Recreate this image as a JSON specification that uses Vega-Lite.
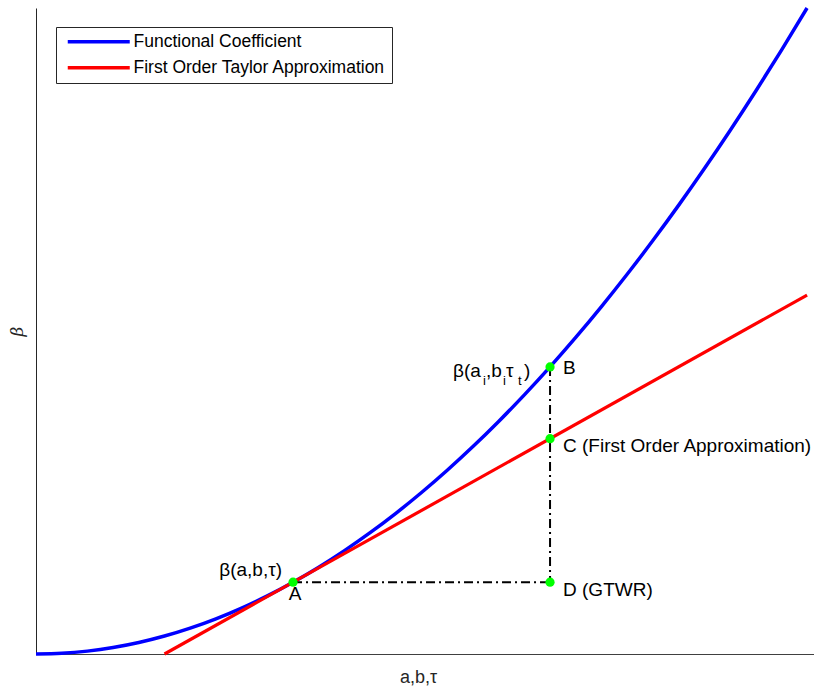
{
  "$schema": "https://vega.github.io/schema/vega-lite/v6.json",
  "width": 778,
  "height": 646,
  "autosize": {"type": "none"},
  "padding": {"left": 36, "top": 8, "right": 0, "bottom": 39},
  "background": "white",
  "config": {
    "view": {"stroke": null},
    "font": "Liberation Sans",
    "text": {"font": "Liberation Sans", "fontSize": 19, "color": "#000000"}
  },
  "datasets": {
    "curves": [
      {"x": 0.0, "y": 0.0, "series": "Functional Coefficient"},
      {"x": 0.1, "y": 0.01, "series": "Functional Coefficient"},
      {"x": 0.2, "y": 0.04, "series": "Functional Coefficient"},
      {"x": 0.3, "y": 0.09, "series": "Functional Coefficient"},
      {"x": 0.4, "y": 0.16, "series": "Functional Coefficient"},
      {"x": 0.5, "y": 0.25, "series": "Functional Coefficient"},
      {"x": 0.6, "y": 0.36, "series": "Functional Coefficient"},
      {"x": 0.7, "y": 0.49, "series": "Functional Coefficient"},
      {"x": 0.8, "y": 0.64, "series": "Functional Coefficient"},
      {"x": 0.9, "y": 0.81, "series": "Functional Coefficient"},
      {"x": 1.0, "y": 1.0, "series": "Functional Coefficient"},
      {"x": 1.1, "y": 1.21, "series": "Functional Coefficient"},
      {"x": 1.2, "y": 1.44, "series": "Functional Coefficient"},
      {"x": 1.3, "y": 1.69, "series": "Functional Coefficient"},
      {"x": 1.4, "y": 1.96, "series": "Functional Coefficient"},
      {"x": 1.5, "y": 2.25, "series": "Functional Coefficient"},
      {"x": 1.6, "y": 2.56, "series": "Functional Coefficient"},
      {"x": 1.7, "y": 2.89, "series": "Functional Coefficient"},
      {"x": 1.8, "y": 3.24, "series": "Functional Coefficient"},
      {"x": 1.9, "y": 3.61, "series": "Functional Coefficient"},
      {"x": 2.0, "y": 4.0, "series": "Functional Coefficient"},
      {"x": 2.1, "y": 4.41, "series": "Functional Coefficient"},
      {"x": 2.2, "y": 4.84, "series": "Functional Coefficient"},
      {"x": 2.3, "y": 5.29, "series": "Functional Coefficient"},
      {"x": 2.4, "y": 5.76, "series": "Functional Coefficient"},
      {"x": 2.5, "y": 6.25, "series": "Functional Coefficient"},
      {"x": 2.6, "y": 6.76, "series": "Functional Coefficient"},
      {"x": 2.7, "y": 7.29, "series": "Functional Coefficient"},
      {"x": 2.8, "y": 7.84, "series": "Functional Coefficient"},
      {"x": 2.9, "y": 8.41, "series": "Functional Coefficient"},
      {"x": 3.0, "y": 9.0, "series": "Functional Coefficient"},
      {"x": 0.5, "y": 0.0, "series": "First Order Taylor Approximation"},
      {"x": 3.0, "y": 5.0, "series": "First Order Taylor Approximation"}
    ],
    "guides": [
      {"x": 1, "y": 1, "x2": 2, "y2": 1},
      {"x": 2, "y": 4, "x2": 2, "y2": 1}
    ],
    "points": [
      {"x": 1, "y": 1, "name": "A"},
      {"x": 2, "y": 4, "name": "B"},
      {"x": 2, "y": 3, "name": "C"},
      {"x": 2, "y": 1, "name": "D"}
    ]
  },
  "layer": [
    {
      "data": {"name": "curves"},
      "transform": [{"filter": "datum.series === 'Functional Coefficient'"}],
      "mark": {"type": "line", "strokeWidth": 3.5, "interpolate": "monotone"},
      "encoding": {
        "x": {"field": "x", "type": "quantitative", "scale": {"domain": [0, 3.027], "nice": false, "zero": false},
          "axis": {"title": "a,b,τ", "ticks": false, "labels": false, "grid": false, "domainColor": "#404040", "domainWidth": 1.2, "titleFont": "Liberation Sans", "titleFontSize": 18, "titleFontWeight": "normal", "titleColor": "#262626", "titlePadding": 14, "titleX": 382}},
        "y": {"field": "y", "type": "quantitative", "scale": {"domain": [0, 9], "nice": false},
          "axis": {"title": "β", "ticks": false, "labels": false, "grid": false, "domainColor": "#262626", "domainWidth": 1, "titleFont": "DejaVu Serif", "titleFontStyle": "italic", "titleFontSize": 17, "titleFontWeight": "normal", "titleColor": "#262626", "titlePadding": 10}},
        "color": {"field": "series", "type": "nominal",
          "scale": {"domain": ["Functional Coefficient", "First Order Taylor Approximation"], "range": ["#0000FF", "#FF0000"]},
          "legend": {"title": null, "orient": "none", "legendX": 20, "legendY": 19, "strokeColor": "#262626", "fillColor": "white", "padding": 6, "rowPadding": 7, "symbolType": "M-0.6,0H11.8", "symbolSize": 100, "symbolStrokeWidth": 3.5, "labelFont": "Liberation Sans", "labelFontSize": 17.5, "labelColor": "#000000", "labelOffset": 54, "labelLimit": 400}}
      }
    },
    {
      "data": {"name": "curves"},
      "transform": [{"filter": "datum.series === 'First Order Taylor Approximation'"}],
      "mark": {"type": "line", "strokeWidth": 3.2},
      "encoding": {
        "x": {"field": "x", "type": "quantitative"},
        "y": {"field": "y", "type": "quantitative"},
        "color": {"field": "series", "type": "nominal"}
      }
    },
    {
      "data": {"name": "guides"},
      "mark": {"type": "rule", "color": "#000000", "strokeWidth": 2, "strokeDash": [9, 4, 2, 4]},
      "encoding": {
        "x": {"field": "x", "type": "quantitative"},
        "y": {"field": "y", "type": "quantitative"},
        "x2": {"field": "x2"},
        "y2": {"field": "y2"}
      }
    },
    {
      "data": {"name": "points"},
      "mark": {"type": "point", "filled": true, "shape": "circle", "size": 85, "color": "#00FF00", "opacity": 1},
      "encoding": {
        "x": {"field": "x", "type": "quantitative"},
        "y": {"field": "y", "type": "quantitative"}
      }
    },
    {
      "data": {"values": [{"x": 1, "y": 1, "label": "β(a,b,τ)"}]},
      "mark": {"type": "text", "align": "right", "baseline": "middle", "dx": -11, "dy": -12},
      "encoding": {"x": {"field": "x", "type": "quantitative"}, "y": {"field": "y", "type": "quantitative"}, "text": {"field": "label"}}
    },
    {
      "data": {"values": [{"x": 1, "y": 1, "label": "A"}]},
      "mark": {"type": "text", "align": "center", "baseline": "middle", "dx": 2, "dy": 12},
      "encoding": {"x": {"field": "x", "type": "quantitative"}, "y": {"field": "y", "type": "quantitative"}, "text": {"field": "label"}}
    },
    {
      "data": {"values": [{"x": 2, "y": 4, "label": "B"}]},
      "mark": {"type": "text", "align": "left", "baseline": "middle", "dx": 13, "dy": 1},
      "encoding": {"x": {"field": "x", "type": "quantitative"}, "y": {"field": "y", "type": "quantitative"}, "text": {"field": "label"}}
    },
    {
      "data": {"values": [{"x": 2, "y": 4, "label": "β(a"}]},
      "mark": {"type": "text", "align": "left", "baseline": "alphabetic", "dx": -97, "dy": 10},
      "encoding": {"x": {"field": "x", "type": "quantitative"}, "y": {"field": "y", "type": "quantitative"}, "text": {"field": "label"}}
    },
    {
      "data": {"values": [{"x": 2, "y": 4, "label": "i"}]},
      "mark": {"type": "text", "align": "left", "baseline": "alphabetic", "dx": -67, "dy": 18, "fontSize": 13},
      "encoding": {"x": {"field": "x", "type": "quantitative"}, "y": {"field": "y", "type": "quantitative"}, "text": {"field": "label"}}
    },
    {
      "data": {"values": [{"x": 2, "y": 4, "label": ",b"}]},
      "mark": {"type": "text", "align": "left", "baseline": "alphabetic", "dx": -64, "dy": 10},
      "encoding": {"x": {"field": "x", "type": "quantitative"}, "y": {"field": "y", "type": "quantitative"}, "text": {"field": "label"}}
    },
    {
      "data": {"values": [{"x": 2, "y": 4, "label": "i"}]},
      "mark": {"type": "text", "align": "left", "baseline": "alphabetic", "dx": -47, "dy": 18, "fontSize": 13},
      "encoding": {"x": {"field": "x", "type": "quantitative"}, "y": {"field": "y", "type": "quantitative"}, "text": {"field": "label"}}
    },
    {
      "data": {"values": [{"x": 2, "y": 4, "label": "τ"}]},
      "mark": {"type": "text", "align": "left", "baseline": "alphabetic", "dx": -44, "dy": 10},
      "encoding": {"x": {"field": "x", "type": "quantitative"}, "y": {"field": "y", "type": "quantitative"}, "text": {"field": "label"}}
    },
    {
      "data": {"values": [{"x": 2, "y": 4, "label": "t"}]},
      "mark": {"type": "text", "align": "left", "baseline": "alphabetic", "dx": -32, "dy": 18, "fontSize": 13},
      "encoding": {"x": {"field": "x", "type": "quantitative"}, "y": {"field": "y", "type": "quantitative"}, "text": {"field": "label"}}
    },
    {
      "data": {"values": [{"x": 2, "y": 4, "label": ")"}]},
      "mark": {"type": "text", "align": "left", "baseline": "alphabetic", "dx": -26, "dy": 10},
      "encoding": {"x": {"field": "x", "type": "quantitative"}, "y": {"field": "y", "type": "quantitative"}, "text": {"field": "label"}}
    },
    {
      "data": {"values": [{"x": 2, "y": 3, "label": "C (First Order Approximation)"}]},
      "mark": {"type": "text", "align": "left", "baseline": "middle", "dx": 13, "dy": 7},
      "encoding": {"x": {"field": "x", "type": "quantitative"}, "y": {"field": "y", "type": "quantitative"}, "text": {"field": "label"}}
    },
    {
      "data": {"values": [{"x": 2, "y": 1, "label": "D (GTWR)"}]},
      "mark": {"type": "text", "align": "left", "baseline": "middle", "dx": 13, "dy": 8},
      "encoding": {"x": {"field": "x", "type": "quantitative"}, "y": {"field": "y", "type": "quantitative"}, "text": {"field": "label"}}
    }
  ]
}
